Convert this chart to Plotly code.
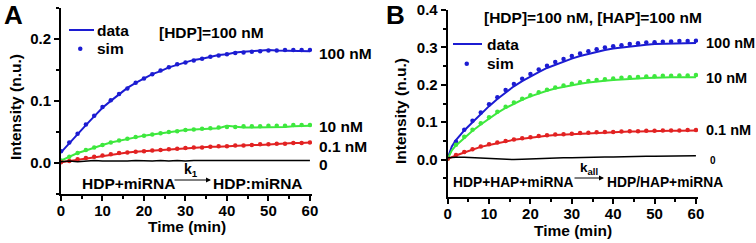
import plotly.graph_objects as go

# ---------------- data ----------------
tA = [0, 2, 4, 6, 8, 10, 12, 14, 16, 18, 20, 22, 24, 26, 28, 30, 32, 34, 36, 38,
      40, 42, 44, 46, 48, 50, 52, 54, 56, 58, 60]

a100_data = [0.017, 0.032, 0.047, 0.061, 0.075, 0.089, 0.100, 0.111, 0.121, 0.129, 0.136,
             0.143, 0.148, 0.154, 0.158, 0.162, 0.166, 0.168, 0.171, 0.174, 0.175, 0.178,
             0.179, 0.180, 0.180, 0.182, 0.181, 0.181, 0.180, 0.181, 0.180]
a100_sim = [0.019, 0.033, 0.047, 0.062, 0.076, 0.090, 0.101, 0.111, 0.120, 0.129, 0.136,
            0.143, 0.149, 0.154, 0.159, 0.162, 0.165, 0.168, 0.171, 0.173, 0.175, 0.177,
            0.178, 0.179, 0.180, 0.181, 0.181, 0.182, 0.182, 0.182, 0.182]
a10_data = [0.004, 0.010, 0.016, 0.020, 0.025, 0.029, 0.033, 0.036, 0.039, 0.042, 0.044,
            0.046, 0.048, 0.050, 0.051, 0.053, 0.054, 0.055, 0.055, 0.056, 0.060, 0.058,
            0.057, 0.057, 0.057, 0.057, 0.058, 0.058, 0.059, 0.060, 0.060]
a10_sim = [0.004, 0.010, 0.016, 0.021, 0.025, 0.029, 0.033, 0.036, 0.039, 0.042, 0.044,
           0.046, 0.048, 0.050, 0.051, 0.053, 0.054, 0.055, 0.056, 0.057, 0.058, 0.058,
           0.059, 0.059, 0.059, 0.060, 0.060, 0.060, 0.061, 0.061, 0.061]
a01_data = [0.001, 0.003, 0.006, 0.008, 0.010, 0.012, 0.014, 0.015, 0.017, 0.018, 0.019,
            0.020, 0.021, 0.022, 0.023, 0.024, 0.024, 0.025, 0.026, 0.026, 0.027, 0.028,
            0.028, 0.029, 0.029, 0.030, 0.031, 0.031, 0.032, 0.032, 0.033]
a01_sim = [0.001, 0.003, 0.006, 0.008, 0.010, 0.012, 0.014, 0.016, 0.017, 0.018, 0.019,
           0.020, 0.021, 0.022, 0.023, 0.024, 0.025, 0.025, 0.026, 0.027, 0.027, 0.028,
           0.028, 0.029, 0.030, 0.030, 0.031, 0.031, 0.032, 0.032, 0.033]
a0_data = [0.002, 0.003, 0.002, 0.003, 0.004, 0.003, 0.003, 0.002, 0.003, 0.004, 0.003,
           0.003, 0.004, 0.003, 0.004, 0.003, 0.004, 0.004, 0.003, 0.004, 0.004, 0.003,
           0.004, 0.004, 0.004, 0.003, 0.004, 0.004, 0.004, 0.004, 0.004]

tB_data = [0, 1, 2, 4, 6, 8, 10, 12, 14, 16, 18, 20, 22, 24, 26, 28, 30, 32, 34, 36, 38,
           40, 42, 44, 46, 48, 50, 52, 54, 56, 58, 60]
tB_sim = tA

b100_data = [0.004, 0.035, 0.052, 0.078, 0.100, 0.122, 0.143, 0.162, 0.180, 0.196, 0.210,
             0.223, 0.234, 0.245, 0.254, 0.263, 0.270, 0.277, 0.283, 0.289, 0.293, 0.297,
             0.300, 0.303, 0.305, 0.307, 0.309, 0.310, 0.311, 0.311, 0.312, 0.312]
b100_sim = [0.004, 0.048, 0.080, 0.104, 0.126, 0.148, 0.167, 0.186, 0.202, 0.216, 0.229,
            0.241, 0.251, 0.261, 0.269, 0.277, 0.284, 0.290, 0.295, 0.300, 0.303, 0.306,
            0.309, 0.311, 0.313, 0.314, 0.315, 0.316, 0.317, 0.317, 0.318]
b10_data = [0.002, 0.025, 0.038, 0.058, 0.077, 0.094, 0.110, 0.125, 0.138, 0.150, 0.160,
            0.169, 0.177, 0.184, 0.190, 0.195, 0.199, 0.203, 0.206, 0.209, 0.211, 0.213,
            0.215, 0.216, 0.217, 0.218, 0.219, 0.219, 0.220, 0.220, 0.220, 0.220]
b10_sim = [0.002, 0.040, 0.061, 0.080, 0.097, 0.113, 0.128, 0.141, 0.153, 0.163, 0.172,
           0.180, 0.187, 0.193, 0.198, 0.203, 0.207, 0.210, 0.213, 0.215, 0.217, 0.219,
           0.220, 0.221, 0.222, 0.223, 0.224, 0.224, 0.225, 0.225, 0.226]
b01_data = [0.002, 0.007, 0.011, 0.019, 0.027, 0.034, 0.039, 0.044, 0.049, 0.053, 0.056,
            0.059, 0.062, 0.064, 0.066, 0.067, 0.068, 0.070, 0.071, 0.072, 0.073, 0.073,
            0.074, 0.075, 0.075, 0.076, 0.076, 0.077, 0.077, 0.077, 0.078, 0.078]
b01_sim = [0.002, 0.012, 0.020, 0.028, 0.035, 0.041, 0.046, 0.050, 0.054, 0.057, 0.060,
           0.063, 0.065, 0.067, 0.068, 0.069, 0.071, 0.072, 0.073, 0.074, 0.074, 0.075,
           0.076, 0.076, 0.077, 0.077, 0.078, 0.078, 0.078, 0.079, 0.079]
b0_data = [0.005, 0.006, 0.006, 0.006, 0.005, 0.004, 0.002, 0.001, 0.000, 0.000, 0.001,
           0.002, 0.003, 0.004, 0.004, 0.005, 0.005, 0.006, 0.006, 0.007, 0.007, 0.007,
           0.008, 0.008, 0.008, 0.009, 0.009, 0.009, 0.009, 0.010, 0.010, 0.010]

x_ticks = [0, 10, 20, 30, 40, 50, 60]
x_minor = [5, 15, 25, 35, 45, 55]
yA_ticks = [0.0, 0.1, 0.2]
yA_minor = [-0.05, 0.05, 0.15, 0.25]
yB_ticks = [0.0, 0.1, 0.2, 0.3, 0.4]
yB_minor = [-0.05, 0.05, 0.15, 0.25, 0.35]

# ---------------- style ----------------
W, H = 756, 243
FONT = "Liberation Sans, Arial, Helvetica, sans-serif"
BLUE, GREEN, RED, BLACK = "#1c1cd2", "#3ee83e", "#e22222", "#000000"


def px(x):
    return x / W


def py(y):
    return 1 - y / H


fig = go.Figure()

series = [
    ("x", "y", tA, a100_data, tA, a100_sim, BLUE),
    ("x", "y", tA, a10_data, tA, a10_sim, GREEN),
    ("x", "y", tA, a01_data, tA, a01_sim, RED),
    ("x2", "y2", tB_data, b100_data, tB_sim, b100_sim, BLUE),
    ("x2", "y2", tB_data, b10_data, tB_sim, b10_sim, GREEN),
    ("x2", "y2", tB_data, b01_data, tB_sim, b01_sim, RED),
]
for xa, ya, tx, dy, ts, sy, col in series:
    fig.add_trace(go.Scatter(x=tx, y=dy, mode="lines", xaxis=xa, yaxis=ya,
                             line=dict(color=col, width=2), showlegend=False))
    fig.add_trace(go.Scatter(x=ts, y=sy, mode="markers", xaxis=xa, yaxis=ya,
                             marker=dict(color=col, size=4.5), showlegend=False))
fig.add_trace(go.Scatter(x=tA, y=a0_data, mode="lines", xaxis="x", yaxis="y",
                         line=dict(color=BLACK, width=1.5), showlegend=False))
fig.add_trace(go.Scatter(x=tB_data, y=b0_data, mode="lines", xaxis="x2", yaxis="y2",
                         line=dict(color=BLACK, width=1.5), showlegend=False))

tickfont = dict(family=FONT, size=15, color="black", weight="bold")


def xaxis(domain, anchor):
    return dict(domain=domain, anchor=anchor, range=[0, 60.5], tickmode="array",
                tickvals=x_ticks, showline=True, linewidth=2, linecolor="black",
                ticks="outside", ticklen=5, tickwidth=2, tickcolor="black",
                ticklabelstandoff=-3,
                showgrid=False, zeroline=False, tickfont=tickfont, automargin=False,
                minor=dict(tickmode="array", tickvals=x_minor, ticks="outside",
                           ticklen=3, tickwidth=1.5, tickcolor="black"))


def yaxis(domain, anchor, rng, tv, mv):
    return dict(domain=domain, anchor=anchor, range=rng, tickmode="array",
                tickvals=tv, tickformat=".1f", showline=True, linewidth=2,
                linecolor="black", ticks="outside", ticklen=5, tickwidth=2,
                tickcolor="black", showgrid=False, zeroline=False, tickfont=tickfont,
                automargin=False,
                minor=dict(tickmode="array", tickvals=mv, ticks="outside",
                           ticklen=3, tickwidth=1.5, tickcolor="black"))


fig.update_layout(
    width=W, height=H, margin=dict(l=0, r=0, t=0, b=0, pad=0, autoexpand=False),
    paper_bgcolor="white", plot_bgcolor="white",
    xaxis=xaxis([px(61), px(312)], "y"),
    yaxis=yaxis([py(194), py(7.75)], "x", [-0.05, 0.25], yA_ticks, yA_minor),
    xaxis2=xaxis([px(447.7), px(698)], "y2"),
    yaxis2=yaxis([py(197), py(10)], "x2", [-0.1, 0.4], yB_ticks, yB_minor),
)


def text(x, y, s, size=15.5, xanchor="left", angle=0, weight="bold"):
    fig.add_annotation(x=px(x), y=py(y), xref="paper", yref="paper", text=s,
                       showarrow=False, xanchor=xanchor, yanchor="middle",
                       textangle=angle,
                       font=dict(family=FONT, size=size, color="black", weight=weight))


def arrow(x0, x1, y):
    fig.add_annotation(x=px(x1), y=py(y), xref="paper", yref="paper",
                       ax=x0 - x1, ay=0, axref="pixel", ayref="pixel", text="",
                       showarrow=True, arrowhead=2, arrowsize=1, arrowwidth=1,
                       arrowcolor="black")


# panel letters
text(2, 15.5, "A", size=26)
text(384, 15, "B", size=26)

# axis titles
text(15, 107, "Intensity (n.u.)", xanchor="center", angle=-90)
text(400, 111, "Intensity (n.u.)", xanchor="center", angle=-90)
text(187, 226, "Time (min)", xanchor="center")
text(573, 230, "Time (min)", xanchor="center")

# legend A
fig.add_shape(type="line", xref="paper", yref="paper", x0=px(69), x1=px(94),
              y0=py(30), y1=py(30), line=dict(color=BLUE, width=2))
fig.add_shape(type="circle", xref="paper", yref="paper", x0=px(78), x1=px(82.5),
              y0=py(51), y1=py(46.5), fillcolor=BLUE, line=dict(width=0))
text(95, 30, "data")
text(95, 48, "sim")
# legend B
fig.add_shape(type="line", xref="paper", yref="paper", x0=px(453), x1=px(482),
              y0=py(44), y1=py(44), line=dict(color=BLUE, width=2))
fig.add_shape(type="circle", xref="paper", yref="paper", x0=px(464.5), x1=px(469),
              y0=py(66), y1=py(61.5), fillcolor=BLUE, line=dict(width=0))
text(485, 44, "data")
text(485, 63, "sim")

# condition labels
text(211, 32, "[HDP]=100 nM", xanchor="center")
text(593, 17, "[HDP]=100 nM, [HAP]=100 nM", xanchor="center")

# curve labels A
text(317, 53, "100 nM")
text(317, 127, "10 nM")
text(317, 146, "0.1 nM")
text(317, 164, "0")
# curve labels B
text(704, 43, "100 nM", size=14.5)
text(704, 78, "10 nM", size=14.5)
text(704, 130, "0.1 nM", size=14.5)
text(708, 160, "0", size=10)

# reactions
text(80, 183, "HDP+miRNA")
arrow(173, 211, 180)
text(191, 170, "k<sub>1</sub>", size=14, xanchor="center")
text(211, 183, "HDP:miRNA")

text(451, 182, "HDP+HAP+miRNA", size=13.8)
arrow(573, 604, 178)
text(589, 168, "k<sub>all</sub>", size=13.5, xanchor="center")
text(605, 182, "HDP/HAP+miRNA", size=13.8)

fig.write_html("out.html", config={"displayModeBar": False},
               post_script="document.body.style.margin='0';"
                           "document.body.style.overflow='hidden';")
